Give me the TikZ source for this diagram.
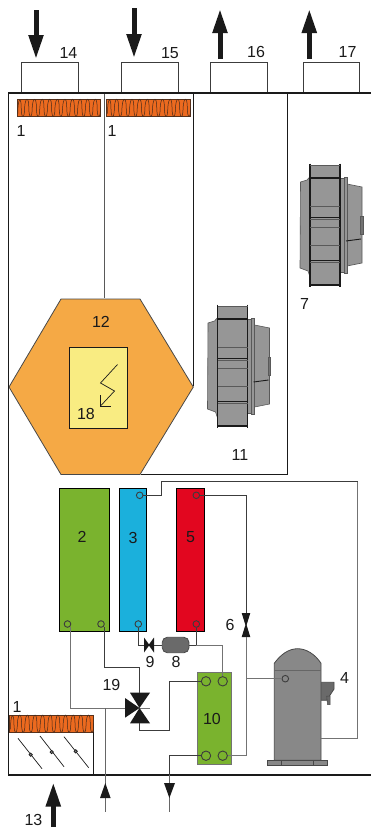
\documentclass[tikz,border=0pt]{standalone}
\usepackage{fontspec}
\setmainfont{Liberation Sans}
\usetikzlibrary{arrows.meta,calc}
\definecolor{ink}{HTML}{1A1A1A}
\definecolor{wirec}{HTML}{3C3C3C}
\definecolor{heatc}{HTML}{EC6A1F}
\definecolor{hexc}{HTML}{F5A945}
\definecolor{yelc}{HTML}{F9EC82}
\definecolor{greenc}{HTML}{7AB32E}
\definecolor{bluec}{HTML}{1BB0DC}
\definecolor{redc}{HTML}{E2061F}
\definecolor{fanc}{HTML}{969696}
\definecolor{compc}{HTML}{888888}
\definecolor{darkc}{HTML}{6A6A6A}
\tikzset{
  lab/.style={font=\fontsize{16}{17}\selectfont,text=ink,inner sep=0pt},
  wall/.style={draw=ink,line width=1.9pt},
  divider/.style={draw=ink,line width=0.9pt},
  duct/.style={draw=wirec,fill=white,line width=1pt,minimum width=56.5pt,minimum height=31pt,inner sep=0pt},
  panel/.style={draw=#1!55!black,line width=1.1pt,inner sep=0pt,minimum height=143pt,anchor=north west},
  port/.style={circle,draw=wirec,line width=0.9pt,minimum size=6.6pt,inner sep=0pt},
  bigport/.style={circle,draw=wirec,line width=0.9pt,minimum size=9.4pt,inner sep=0pt},
  pipe/.style={draw=wirec,line width=0.9pt},
  grayp/.style={draw=black!55,line width=0.9pt},
  bigarrow/.style={draw=ink,line width=5pt,-{Triangle[length=24pt,width=14pt,fill=ink]}},
  valvetri/.style={fill=ink,draw=none},
  pics/heater/.style={code={
    \fill[heatc,draw=ink!70!heatc,line width=0.7pt] (0,0) rectangle (#1,17);
    \pgfmathsetmacro{\wv}{#1/11.0}
    \draw[ink!80!heatc,line width=0.5pt] (0.8,14)
      \foreach \k in {0,...,10}{
        .. controls ({0.8+\k*\wv},-3) and ({0.8+(\k+0.45)*\wv},-3) .. ({0.8+(\k+0.45)*\wv},8)
        .. controls ({0.8+(\k+0.45)*\wv},20) and ({0.8+(\k+0.9)*\wv},20) .. ({0.8+(\k+0.9)*\wv},8)
      };
  }},
  pics/fan/.style={code={
    \begin{scope}[draw=black!65,fill=fanc,line width=0.6pt]
    \filldraw (0,11.7) -- (-3,15) -- (-9.5,17) -- (-10,103) -- (-2,106) -- (0,112) -- cycle;
    \filldraw (37,19) -- (52,22) -- (52,98) -- (37,101) -- cycle;
    \filldraw[fill=black!55] (50.5,51) rectangle (52.8,69);
    \filldraw (30,13) rectangle (34,107);
    \filldraw (34,12) rectangle (37,108);
    \fill (0,0) rectangle (30,120);
    \end{scope}
    \draw[ink,line width=0.9pt] (36,76) -- (51,74);
    \draw[ink,line width=1.6pt] (0,-1.5) -- (0,121.5) (30,-1.5) -- (30,121.5);
    \draw[black!65,line width=.9pt] (0,0) -- (30,0);
    \draw[ink,line width=1.2pt] (0,120) -- (30,120);
    \draw[ink,line width=1.3pt] (0,13) -- (30,13);
    \draw[black!65,line width=1pt] (0,41) -- (30,41) (0,62) -- (30,62) (0,80) -- (30,80) (0,97) -- (30,97);
    \draw[ink,line width=1pt] (0,52) -- (30,52) (0,95) -- (30,95);
    \draw[black!65,line width=.8pt] (0,54.2) -- (30,54.2);
  }}
}
\begin{document}
\begin{tikzpicture}[x=1pt,y=-1pt]
\useasboundingbox (0,0) rectangle (371,827);
% ducts
\node[duct] (d14) at (49.8,77.5) {};
\node[duct] (d15) at (150.2,77.5) {};
\node[duct] (d16) at (239,77.5) {};
\node[duct] (d17) at (331.5,77.5) {};
% internal dividers
\coordinate (topA) at (104,93); \coordinate (topB) at (193.3,93); \coordinate (topC) at (287.5,93);
\coordinate (cornC) at (287.5,474.5);
% hexagon
\node[inner sep=0pt] (hexR) at (193.3,387) {};
\node[inner sep=0pt] (hexT) at (104,299) {};
\node[inner sep=0pt] (hexB) at (140,474.5) {};
\draw[divider,black!65] (topA) -- (hexT);
\draw[divider] (topB) -- (hexR);
\draw[divider] (topC) -- (cornC) -- (hexB);
\filldraw[fill=hexc,draw=ink!80,line width=.8pt] (9,387) -- (61,299) -- (140,299) -- (193.3,387) -- (140,474.5) -- (61,474.5) -- cycle;
\node[draw=ink,fill=yelc,line width=.9pt,minimum width=58pt,minimum height=80.5pt,inner sep=0pt] (y18) at (98.5,387.8) {};
\draw[ink,line width=.7pt] (117.5,364.5) -- (100.5,383) -- (114.5,391) -- (100.5,406);
\draw[ink,line width=.9pt] (100.5,395) -- (100.5,406) -- (111,406);
% heaters
\pic at (17,99.5) {heater=83.5};
\pic at (106.7,99.5) {heater=84};
\pic at (9.7,715.3) {heater=84};
% damper
\draw[draw=ink,line width=.8pt] (93.7,731.7) -- (93.7,775);
\coordinate (l1a) at (18,738.3); \coordinate (l1b) at (42,768.7);
\coordinate (l2a) at (40,736); \coordinate (l2b) at (64,766.7);
\coordinate (l3a) at (64,736.7); \coordinate (l3b) at (88.7,767.7);
\draw[ink,line width=.7pt] (l1a) -- (l1b) (l2a) -- (l2b) (l3a) -- (l3b);
\foreach \p in {(30.7,754.7),(51.7,752),(75.7,751.3)} \draw[ink,line width=.7pt,fill=black!50] \p circle (1.7);
% outer wall
\draw[wall] (371,93) -- (8.5,93) -- (8.5,775) -- (371,775);
% fans
\pic at (310,165) {fan};
\pic at (217.5,306) {fan};
% panels
\node[panel=black,fill=greenc,minimum width=50pt] (p2) at (59,488) {};
\node[panel=black,fill=bluec,minimum width=27.5pt] (p3) at (118.5,488) {};
\node[panel=black,fill=redc,minimum width=27.5pt] (p5) at (176,488) {};
\node[draw=black!55,fill=greenc,line width=1pt,inner sep=0pt,minimum width=34.3pt,minimum height=92.3pt,anchor=north west] (p10) at (196.7,671.7) {};
% ports
\node[port] (g1) at (67.5,624) {};
\node[port] (g2) at (101,624) {};
\node[port] (b1) at (139.7,495.3) {};
\node[port] (b2) at (138.3,624) {};
\node[port] (r1) at (196.3,495.3) {};
\node[port] (r2) at (196.3,624) {};
\node[bigport] (h1) at (206,681.3) {};
\node[bigport] (h2) at (222.7,681.3) {};
\node[bigport] (h3) at (206,755.7) {};
\node[bigport] (h4) at (222.7,755.7) {};
% receiver
\node[draw=ink!80,fill=darkc,line width=.8pt,rounded corners=5pt,minimum width=26.7pt,minimum height=15.4pt,inner sep=0pt] (recv) at (175.6,645) {};
% compressor
\filldraw[fill=darkc,draw=ink!80,line width=.8pt] (312.7,682.3) -- (334,682.3) -- (334,689) -- (326.7,700.3) -- (312.7,700.3) -- cycle;
\filldraw[fill=darkc,draw=ink!80,line width=.5pt] (326.7,696) -- (330,696) -- (330,704.5) -- (327.5,704.5) -- cycle;
\filldraw[fill=compc,draw=ink!80,line width=.8pt] (274.3,760.3) -- (274.3,663.3) .. controls (281,654) and (289,648.7) .. (297.7,648.7) .. controls (306,648.7) and (315,654) .. (321,663.3) -- (321,760.3) -- cycle;
\draw[black!60,line width=1pt] (274.3,670.7) -- (321,670.7);
\filldraw[fill=compc,draw=ink!80,line width=.8pt] (267.3,760.3) rectangle (327.7,765.7);
\draw[ink!80,line width=.6pt] (281.7,760.3) -- (281.7,765.7) (313.3,760.3) -- (313.3,765.7);
\node[port,fill=compc] (c1) at (285.3,678.7) {};
\coordinate (compR) at (321,738.5);
% valves
\coordinate (v6) at (246,625);
\coordinate (v6t) at (246,613); \coordinate (v6b) at (246,637);
\fill[valvetri] (241.7,613) -- (250.3,613) -- (246.6,625) -- (250.3,637) -- (241.7,637) -- (245.4,625) -- cycle;
\coordinate (v9) at (149,645);
\coordinate (v9l) at (144,645); \coordinate (v9r) at (154,645);
\fill[valvetri] (144,637.5) -- (149,644.4) -- (154,637.5) -- (154,652.5) -- (149,645.6) -- (144,652.5) -- cycle;
\coordinate (v3) at (139.5,708);
\coordinate (v3t) at (139.5,693); \coordinate (v3l) at (125,708); \coordinate (v3b) at (139.5,723);
\draw[grayp] (v3) -- (150,708);
\fill[valvetri] (130,692.7) -- (150,692.7) -- (v3) -- cycle;
\fill[valvetri] (125,698) -- (125,717.7) -- (v3) -- cycle;
\fill[valvetri] (130,723.3) -- (150,723.3) -- (v3) -- cycle;
% pipes
\draw[pipe] (b1) -- (161,495.3) -- (161,481.5) -- (357.7,481.5);
\draw[grayp] (357.7,481.5) -- (357.7,738.5) -- (compR);
\draw[pipe] (r1) -| (v6t);
\draw[pipe] (b2) |- (v9l);
\draw[pipe] (v9r) -- (recv);
\draw[pipe] (recv) -- (196.3,645);
\draw[pipe] (r2) -- (196.3,645);
\draw[grayp] (196.3,645) -| (h2);
\draw[grayp] (v6b) |- (h4);
\draw[grayp] (246,678.7) -- (c1);
\draw[grayp] (g1) ++(2.5,3) -- (70,708) -- (v3l);
\draw[pipe] (g2) ++(3.7,3) -- (104.7,667) -- (139.5,667) -- (v3t);
\draw[pipe] (v3b) -- (139.5,730) -- (169.4,730) -- (169.4,681.3) -- (h1);
\coordinate (out) at (169.4,783);
\coordinate (outEnd) at (169.4,811.5);
\draw[pipe] (h3) -| (out);
\draw[draw=black!60,line width=.9pt] (169.4,775) -- (outEnd);
\fill[ink] (164,783) -- (175,783) -- (169.4,798) -- cycle;
\coordinate (inS) at (105.3,811.5); \coordinate (inJ) at (105.3,708);
\draw[draw=black!60,line width=.9pt] (inS) -- (inJ);
\fill[ink] (100,798) -- (110.6,798) -- (105.3,783) -- cycle;
% big arrows
\coordinate (a14s) at (36,10); \coordinate (a14e) at (36,59);
\coordinate (a15s) at (134,8); \coordinate (a15e) at (134,58);
\coordinate (a16s) at (220,59); \coordinate (a16e) at (220,9);
\coordinate (a17s) at (309.3,59); \coordinate (a17e) at (309.3,9);
\coordinate (a13s) at (53.3,827); \coordinate (a13e) at (53.3,782.5);
\draw[bigarrow] (a14s) -- (a14e);
\draw[bigarrow] (a15s) -- (a15e);
\draw[bigarrow] (a16s) -- (a16e);
\draw[bigarrow] (a17s) -- (a17e);
\draw[bigarrow] (a13s) -- (a13e);
% labels
\node[lab] (t14) at (68.5,53) {14};
\node[lab] (t15) at (170,53) {15};
\node[lab] (t16) at (256,52) {16};
\node[lab] (t17) at (347.5,52) {17};
\node[lab] (t1a) at (21,131) {1};
\node[lab] (t1b) at (112,131) {1};
\node[lab] (t1c) at (17,707) {1};
\node[lab] (t7) at (304.5,304) {7};
\node[lab] (t11) at (240,455) {11};
\node[lab] (t12) at (101,322) {12};
\node[lab] (t18) at (86,414) {18};
\node[lab] (t2) at (82,537) {2};
\node[lab] (t3) at (133,538) {3};
\node[lab] (t5) at (190.5,537) {5};
\node[lab] (t6) at (230,625) {6};
\node[lab] (t9) at (150,662) {9};
\node[lab] (t8) at (176,662) {8};
\node[lab] (t19) at (111.5,685) {19};
\node[lab] (t10) at (212,719) {10};
\node[lab] (t4) at (344.5,678) {4};
\node[lab] (t13) at (33.5,819.5) {13};
\end{tikzpicture}
\end{document}
